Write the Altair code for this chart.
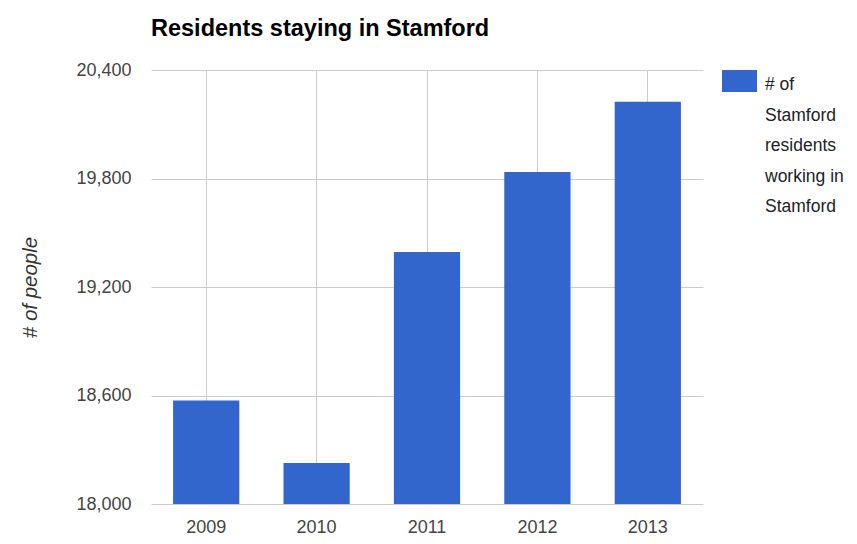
import altair as alt
import pandas as pd

years = ["2009", "2010", "2011", "2012", "2013"]
residents = [18573, 18227, 19394, 19836, 20225]
y_ticks = [18000, 18600, 19200, 19800, 20400]
series_name = "# of Stamford residents working in Stamford"
legend_lines = ["# of", "Stamford", "residents", "working in", "Stamford"]
title_text = "Residents staying in Stamford"
y_title = "# of people"

BAR = "#3366cc"
FONT = "Liberation Sans, Arial"

df = pd.DataFrame({"year": years, "value": residents, "series": [series_name] * len(years)})

bars = alt.Chart(df).mark_bar(color=BAR, clip=True).encode(
    x=alt.X(
        "year:N",
        sort=years,
        title=None,
        scale=alt.Scale(paddingInner=0.4, paddingOuter=0.2),
        axis=alt.Axis(
            grid=True, bandPosition=0.5, gridColor="#cccccc", gridWidth=1,
            ticks=False, domain=False, labelAngle=0,
            labelFont=FONT, labelFontSize=18, labelColor="#444444",
            labelPadding=14,
        ),
    ),
    y=alt.Y(
        "value:Q",
        scale=alt.Scale(domain=[y_ticks[0], y_ticks[-1]], zero=False, nice=False),
        axis=alt.Axis(
            values=y_ticks, format=",.0f", grid=True, gridColor="#cccccc", gridWidth=1,
            ticks=False, domain=False,
            labelFont=FONT, labelFontSize=18, labelColor="#444444", labelPadding=20,
            title=y_title, titleFont=FONT, titleFontSize=20.5,
            titleFontStyle="italic", titleFontWeight="normal", titleColor="#333333",
            titleAngle=270, titleX=-121, titleY=217, titleAlign="center",
            titleBaseline="middle",
        ),
    ),
)

legend_df = pd.DataFrame({"label": [series_name]})

legend_rect = alt.Chart(legend_df).mark_rect(color=BAR).encode(
    x=alt.value(571), x2=alt.value(606), y=alt.value(0), y2=alt.value(22)
)

legend_text = alt.Chart(legend_df).mark_text(
    text=legend_lines, align="left", baseline="alphabetic", font=FONT,
    fontSize=17.5, color="#222222", lineHeight=30.6,
).encode(x=alt.value(614), y=alt.value(20))

chart = alt.layer(bars, legend_rect, legend_text).properties(
    width=552,
    height=434,
    autosize=alt.AutoSizeParams(type="none"),
    padding={"left": 143, "top": 62, "right": 146, "bottom": 32},
    title=alt.TitleParams(
        title_text, anchor="start", frame="group", font=FONT, fontSize=23.5,
        fontWeight="bold", color="#000000", offset=2, baseline="alphabetic",
    ),
).configure_view(stroke=None)

chart.save("out.html", embed_options={"renderer": "svg", "actions": False})
